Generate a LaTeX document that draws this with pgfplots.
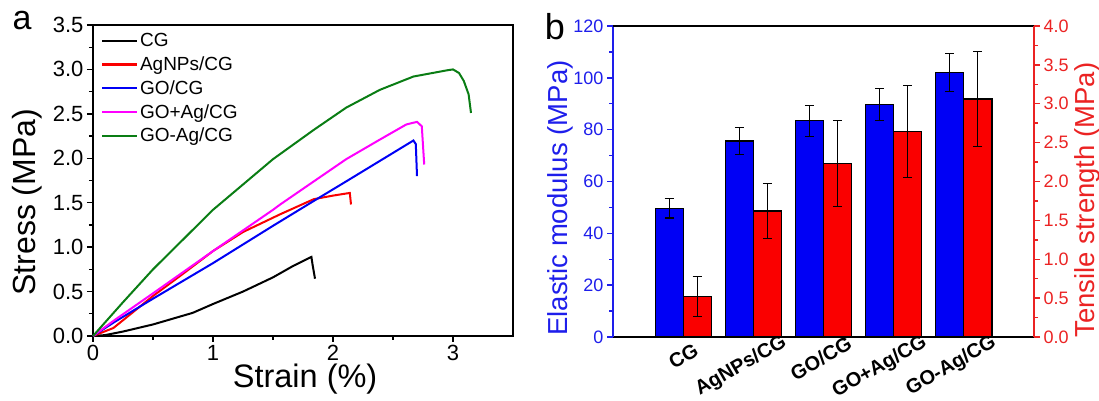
\documentclass[border=0pt]{standalone}
\usepackage{fontspec}
\setmainfont{Liberation Sans}
\usepackage{pgfplots}
\pgfplotsset{compat=1.18}
\definecolor{cgreen}{RGB}{10,125,20}
\definecolor{cmag}{RGB}{255,0,255}
\definecolor{cblue}{RGB}{0,0,245}
\definecolor{cred}{RGB}{250,0,0}
\definecolor{axblue}{RGB}{30,30,235}
\definecolor{axred}{RGB}{235,35,35}
\begin{document}
\begin{tikzpicture}
\useasboundingbox (0pt,0pt) rectangle (1099pt,401pt);
% ---------------- panel a ----------------
\begin{axis}[
  at={(93pt,65pt)}, anchor=south west, scale only axis,
  width=420pt, height=311pt, clip=false,
  xmin=0, xmax=3.5, ymin=0, ymax=3.5,
  xtick={0,1,2,3}, minor x tick num=1,
  ytick={0,0.5,1,1.5,2,2.5,3,3.5}, minor y tick num=1,
  tick align=outside, xtick pos=bottom, ytick pos=left,
  major tick length=6pt, minor tick length=4pt,
  axis line style={line width=1.6pt},
  tick style={line width=1.4pt, black},
  /pgf/number format/assume math mode=true,
  yticklabel style={/pgf/number format/.cd, fixed, fixed zerofill, precision=1},
  tick label style={font=\fontsize{22}{26}\selectfont},
  xlabel={Strain (\%)}, ylabel={Stress (MPa)},
  xlabel style={font=\fontsize{32.5}{38}\selectfont, at={(axis description cs:0.505,-0.14)}, anchor=center},
  ylabel style={font=\fontsize{32}{38}\selectfont, at={(axis description cs:-0.157,0.43)}, anchor=center},
  legend style={draw=none, fill=none, at={(axis description cs:0.012,0.995)}, anchor=north west,
    font=\fontsize{19}{22}\selectfont, nodes={inner sep=1.5pt, minimum height=23.8pt}, cells={anchor=west}},
  legend image code/.code={\draw[#1, line width=2.3pt] (0pt,0pt) -- (35pt,0pt);},
]
\addplot[black, line width=2pt] coordinates {(0,0) (0.1,0.01) (0.25,0.05) (0.5,0.13) (0.83,0.26) (1.0,0.36) (1.25,0.5) (1.5,0.66) (1.67,0.79) (1.82,0.89) (1.83,0.8) (1.85,0.645)};
\addlegendentry{CG}
\addplot[cred, line width=2pt] coordinates {(0,0) (0.17,0.09) (0.5,0.45) (0.75,0.7) (1,0.956) (1.25,1.17) (1.56,1.37) (1.84,1.54) (2.0,1.58) (2.14,1.61) (2.15,1.48)};
\addlegendentry{AgNPs/CG}
\addplot[cblue, line width=2pt] coordinates {(0,0) (0.17,0.15) (0.5,0.42) (1,0.82) (1.5,1.24) (1.84,1.52) (2.11,1.74) (2.39,1.97) (2.67,2.2) (2.69,2.16) (2.70,1.80)};
\addlegendentry{GO/CG}
\addplot[cmag, line width=2pt] coordinates {(0,0) (0.17,0.17) (0.5,0.48) (1,0.956) (1.5,1.42) (1.56,1.48) (1.84,1.74) (2.11,1.99) (2.39,2.21) (2.61,2.38) (2.70,2.41) (2.74,2.36) (2.76,1.93)};
\addlegendentry{GO+Ag/CG}
\addplot[cgreen, line width=2pt] coordinates {(0,0) (0.25,0.38) (0.5,0.75) (1,1.42) (1.5,1.99) (1.84,2.32) (2.11,2.57) (2.39,2.77) (2.67,2.92) (2.95,2.99) (3.0,3.0) (3.05,2.96) (3.09,2.87) (3.13,2.72) (3.15,2.51)};
\addlegendentry{GO-Ag/CG}
\node[font=\fontsize{34}{40}\selectfont, anchor=base] at (axis description cs:-0.169,0.984) {a};
\end{axis}
% ---------------- panel b (left axis) ----------------
\begin{axis}[
  at={(613pt,64pt)}, anchor=south west, scale only axis,
  width=421pt, height=311pt, clip=false,
  xmin=0, xmax=6, ymin=0, ymax=120,
  axis x line*=bottom, axis y line*=left,
  x axis line style={black, line width=1.6pt, -},
  y axis line style={axblue, line width=1.6pt, -},
  xtick={1,2,3,4,5},
  xticklabels={CG,AgNPs/CG\hspace*{-20pt},GO/CG\hspace*{-15pt},GO+Ag/CG\hspace*{-20pt},GO-Ag/CG\hspace*{-19pt}},
  xtick pos=bottom, ytick pos=left, yticklabel pos=left,
  x tick style={draw=none},
  x tick label style={font=\bfseries\fontsize{20}{22}\selectfont, rotate=30, anchor=north east, xshift=12pt, yshift=-1pt},
  ytick={0,20,40,60,80,100,120}, minor y tick num=1, tick align=outside,
  major tick length=6pt, minor tick length=4pt,
  y tick style={axblue, line width=1.4pt},
  y tick label style={axblue, font=\fontsize{18}{21}\selectfont},
  /pgf/number format/assume math mode=true,
  ylabel={Elastic modulus (MPa)},
  ylabel style={axblue, font=\fontsize{27.5}{32}\selectfont, at={(axis description cs:-0.126,0.447)}, anchor=center},
  bar width=0.4,
]
\addplot[ybar, bar shift=0, fill=cblue, draw=black, line width=1.2pt,
  error bars/.cd, y dir=both, y explicit,
  error bar style={black, line width=1.2pt},
  error mark options={rotate=90, black, mark size=4.5pt, line width=1.2pt}]
  coordinates {(0.8,49.6) +- (0,3.7) (1.8,75.6) +- (0,5.3) (2.8,83.4) +- (0,5.9) (3.8,89.7) +- (0,6.1) (4.8,102) +- (0,7.3)};
\node[font=\fontsize{36}{42}\selectfont, anchor=base] at (axis description cs:-0.138,0.955) {b};
\end{axis}
% ---------------- panel b (right axis) ----------------
\begin{axis}[
  at={(613pt,64pt)}, anchor=south west, scale only axis,
  width=421pt, height=311pt, clip=false,
  xmin=0, xmax=6, ymin=0, ymax=4,
  axis x line*=top, axis y line*=right,
  x axis line style={black, line width=1.6pt, -},
  y axis line style={axred, line width=1.6pt, -},
  xtick=\empty, ytick pos=right, yticklabel pos=right,
  ytick={0,0.5,1,1.5,2,2.5,3,3.5,4}, minor y tick num=1, tick align=outside,
  major tick length=6pt, minor tick length=4pt,
  y tick style={axred, line width=1.4pt},
  /pgf/number format/assume math mode=true,
  yticklabel style={axred, font=\fontsize{18}{21}\selectfont, /pgf/number format/.cd, fixed, fixed zerofill, precision=1},
  ylabel={Tensile strength (MPa)},
  ylabel style={axred, font=\fontsize{27.5}{32}\selectfont, at={(axis description cs:1.127,0.44)}, anchor=center},
  bar width=0.4,
]
\addplot[ybar, bar shift=0, fill=cred, draw=black, line width=1.2pt,
  error bars/.cd, y dir=both, y explicit,
  error bar style={black, line width=1.2pt},
  error mark options={rotate=90, black, mark size=4.5pt, line width=1.2pt}]
  coordinates {(1.2,0.52) +- (0,0.26) (2.2,1.62) +- (0,0.35) (3.2,2.23) +- (0,0.55) (4.2,2.64) +- (0,0.59) (5.2,3.06) +- (0,0.61)};
\end{axis}
\end{tikzpicture}
\end{document}
